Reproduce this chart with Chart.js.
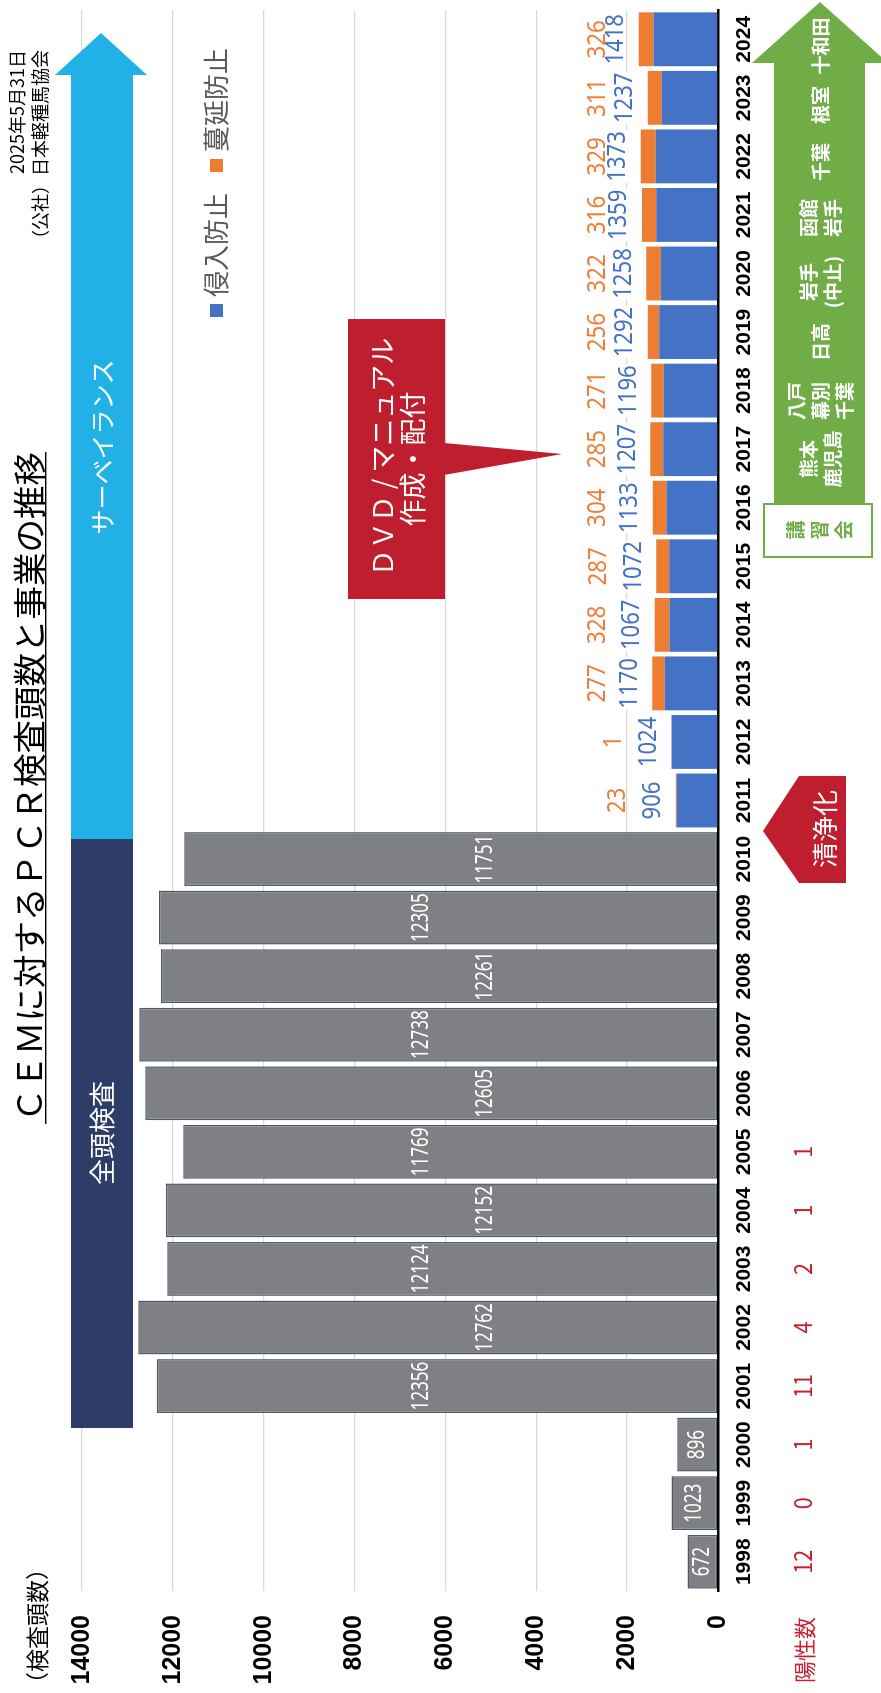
<!DOCTYPE html>
<html lang="ja">
<head>
<meta charset="utf-8">
<title>CEMに対するPCR検査頭数と事業の推移</title>
<script src="https://cdn.jsdelivr.net/npm/chart.js@4.4.1/dist/chart.umd.min.js"></script>
<style>
  html, body { margin: 0; padding: 0; background: #fff; overflow: hidden; }
  body { width: 881px; height: 1693px; position: relative; }
  /* the chart is laid out landscape, then turned a quarter left */
  #wrap { position: absolute; left: 0; top: 0; width: 1693px; height: 881px;
          transform-origin: 0 0; transform: rotate(-90deg) translate(-1693px, 0); }
  canvas { display: block; }
</style>
</head>
<body>
<div id="wrap"><canvas id="cem" width="1693" height="881"></canvas></div>
<script>
// データ
const years = ['1998','1999','2000','2001','2002','2003','2004','2005','2006','2007','2008','2009','2010',
               '2011','2012','2013','2014','2015','2016','2017','2018','2019','2020','2021','2022','2023','2024'];
const allHeads  = [672, 1023, 896, 12356, 12762, 12124, 12152, 11769, 12605, 12738, 12261, 12305, 11751]; // 全頭検査 1998-2010
const invasion  = [906, 1024, 1170, 1067, 1072, 1133, 1207, 1196, 1292, 1258, 1359, 1373, 1237, 1418];   // 侵入防止 2011-2024
const spread    = [23, 1, 277, 328, 287, 304, 285, 271, 256, 322, 316, 329, 311, 326];                    // 蔓延防止 2011-2024
const positives = [12, 0, 1, 11, 4, 2, 1, 1];                                                              // 陽性数 1998-2005
const yTicks    = [0, 2000, 4000, 6000, 8000, 10000, 12000, 14000];

const pad = (arr, before, after) => [...Array(before).fill(null), ...arr, ...Array(after).fill(null)];
const nGrey = allHeads.length, nNew = invasion.length;

const JP = '"Noto Sans CJK JP", "Noto Sans", sans-serif';
const NUM = '"Noto Sans", "DejaVu Sans", sans-serif';

function text(ctx, s, x, y, o) {
  ctx.save();
  ctx.font = o.font;
  ctx.fillStyle = o.color || '#000';
  ctx.textAlign = o.align || 'center';
  ctx.textBaseline = 'middle';
  ctx.translate(x, y);
  ctx.scale(o.sx || 1, 1);
  ctx.fillText(s, 0, 0);
  ctx.restore();
}
function poly(ctx, pts, color) {
  ctx.beginPath();
  pts.forEach((p, i) => i ? ctx.lineTo(p[0], p[1]) : ctx.moveTo(p[0], p[1]));
  ctx.closePath();
  ctx.fillStyle = color;
  ctx.fill();
}

// 棒の数値ラベル
const valueLabels = {
  id: 'valueLabels',
  afterDatasetsDraw(chart) {
    const { ctx, scales: { x, y } } = chart;
    chart.getDatasetMeta(0).data.forEach((el, i) => {
      if (i >= nGrey) return;
      const yy = i < 3 ? (el.y + el.base) / 2 : y.getPixelForValue(i % 2 ? 6530 : 5110);
      text(ctx, String(allHeads[i]), el.x, yy, { font: '23px ' + NUM, color: '#fff', sx: 0.74 });
    });
    const lo = y.getPixelForValue(2660);
    invasion.forEach((v, k) => {
      const i = nGrey + k;
      const top = y.getPixelForValue(v + spread[k]);
      const cx = x.getPixelForValue(i);
      // 侵入防止
      ctx.save();
      ctx.font = '26px ' + NUM;
      const w = ctx.measureText(String(v)).width * 0.85;
      ctx.restore();
      ctx.fillStyle = '#fff';
      ctx.fillRect(cx - w / 2 - 1, top - 23 - 10, w + 2, 20);
      text(ctx, String(v), cx, top - 23, { font: '26px ' + NUM, color: '#4472C4', sx: 0.85 });
      // 蔓延防止
      text(ctx, String(spread[k]), cx, Math.max(top - 58, lo), { font: '26px ' + NUM, color: '#F07E3A', sx: 0.86 });
    });
    positives.forEach((p, i) => {
      text(ctx, String(p), x.getPixelForValue(i), 803, { font: '24px ' + JP, color: '#C8202E', sx: 0.9 });
    });
  }
};

// 事業の矢印・注記
const notes = {
  id: 'notes',
  afterDraw(chart) {
    const { ctx } = chart;

    // タイトル
    ctx.save();
    ctx.font = '33.5px ' + JP;
    const title = 'ＣＥＭに対するＰＣＲ検査頭数と事業の推移';
    const tw = ctx.measureText(title).width;
    ctx.restore();
    text(ctx, title, 571, 29, { font: '33.5px ' + JP, align: 'left' });
    ctx.fillStyle = '#000';
    ctx.fillRect(569, 45, tw + 2, 1.4);

    text(ctx, '2025年5月31日', 1643, 17, { font: '18px ' + JP, align: 'right' });
    text(ctx, '（公社）日本軽種馬協会', 1643, 40, { font: '18px ' + JP, align: 'right' });
    text(ctx, '（検査頭数）', -2, 37, { font: '23px ' + JP, align: 'left' });
    text(ctx, '陽性数', 43, 805, { font: '22px ' + JP, color: '#C8202E' });

    // 凡例
    ctx.fillStyle = '#4472C4'; ctx.fillRect(1376, 210, 13, 13);
    text(ctx, '侵入防止', 1396, 216, { font: '26px ' + JP, color: '#595959', align: 'left' });
    ctx.fillStyle = '#ED7D31'; ctx.fillRect(1521, 210, 13, 13);
    text(ctx, '蔓延防止', 1541, 216, { font: '26px ' + JP, color: '#595959', align: 'left' });

    // 全頭検査 / サーベイランス
    ctx.fillStyle = '#2E3D67'; ctx.fillRect(265, 71, 589, 62);
    text(ctx, '全頭検査', 560, 102, { font: '26px ' + JP, color: '#fff' });
    ctx.fillStyle = '#21B1E6'; ctx.fillRect(854, 71, 764, 62);
    poly(ctx, [[1618, 55], [1660, 101], [1618, 147]], '#21B1E6');
    text(ctx, 'サーベイランス', 1246, 102, { font: '25px ' + JP, color: '#fff' });

    // 講習会
    ctx.fillStyle = '#70AD47'; ctx.fillRect(1190, 774, 440, 91);
    poly(ctx, [[1630, 752], [1691, 820], [1630, 888]], '#70AD47');
    const g = { font: 'bold 19px ' + JP, color: '#fff' };
    const venues = [
      [1647, ['十和田']], [1588, ['根室']], [1531, ['千葉']], [1475, ['函館', '岩手']],
      [1411, ['岩手', '(中止)']], [1351, ['日高']], [1292, ['八戸', '幕別', '千葉']], [1234, ['熊本', '鹿児島']]
    ];
    venues.forEach(([u, lines]) => {
      const v0 = 821 - (lines.length - 1) * 12;
      lines.forEach((s, j) => text(ctx, s, u, v0 + j * 24, g));
    });
    ctx.fillStyle = '#fff'; ctx.fillRect(1135, 763, 55, 110);
    ctx.strokeStyle = '#70AD47'; ctx.lineWidth = 2; ctx.strokeRect(1136, 764, 53, 108);
    ['講', '習', '会'].forEach((c, j) => text(ctx, c, 1163, 796 + j * 24, { font: 'bold 19px ' + JP, color: '#70AD47' }));

    // DVD / マニュアル
    ctx.fillStyle = '#BE1E2D'; ctx.fillRect(1094, 348, 280, 97);
    poly(ctx, [[1218, 444], [1250, 444], [1239, 562]], '#BE1E2D');
    text(ctx, 'ＤＶＤ / マニュアル', 1236, 383, { font: '27px ' + JP, color: '#fff' });
    text(ctx, '作成・配付', 1234, 413, { font: '27px ' + JP, color: '#fff' });

    // 清浄化
    poly(ctx, [[810, 846], [810, 799], [862, 763], [917, 799], [917, 846]], '#BE1E2D');
    text(ctx, '清浄化', 864, 825, { font: '26px ' + JP, color: '#fff' });
  }
};

new Chart(document.getElementById('cem'), {
  type: 'bar',
  data: {
    labels: years,
    datasets: [
      { label: '全頭検査', data: pad(allHeads, 0, nNew), backgroundColor: '#7F8084', borderColor: '#4D5A6E',
        borderWidth: 1.5, borderSkipped: false },
      { label: '侵入防止', data: pad(invasion, nGrey, 0), backgroundColor: '#4472C4' },
      { label: '蔓延防止', data: pad(spread, nGrey, 0), backgroundColor: '#ED7D31' }
    ]
  },
  options: {
    responsive: false,
    animation: false,
    devicePixelRatio: 1,
    layout: { padding: { top: 82, right: 10, left: 0, bottom: 0 } },
    datasets: { bar: { barPercentage: 0.92, categoryPercentage: 1.0 } },
    plugins: { legend: { display: false }, tooltip: { enabled: false } },
    scales: {
      x: {
        stacked: true,
        grid: { display: false },
        border: { display: true, color: '#000', width: 2.5 },
        ticks: { color: '#000', font: { family: 'Liberation Sans', weight: 'bold', size: 21 }, padding: 6,
                 maxRotation: 0, minRotation: 0, autoSkip: false },
        afterFit(s) { s.height = 163; }
      },
      y: {
        stacked: true,
        min: yTicks[0],
        max: yTicks[yTicks.length - 1],
        afterBuildTicks(s) { s.ticks = yTicks.map(v => ({ value: v })); },
        grid: { color: '#D9D9D9', lineWidth: 1.3, drawTicks: false },
        border: { display: false },
        ticks: { color: '#000', font: { family: 'Liberation Sans', weight: 'bold', size: 25 }, padding: 24,
                 callback: v => String(v) },
        afterFit(s) { s.width = 102; }
      }
    }
  },
  plugins: [valueLabels, notes]
});
</script>
</body>
</html>
